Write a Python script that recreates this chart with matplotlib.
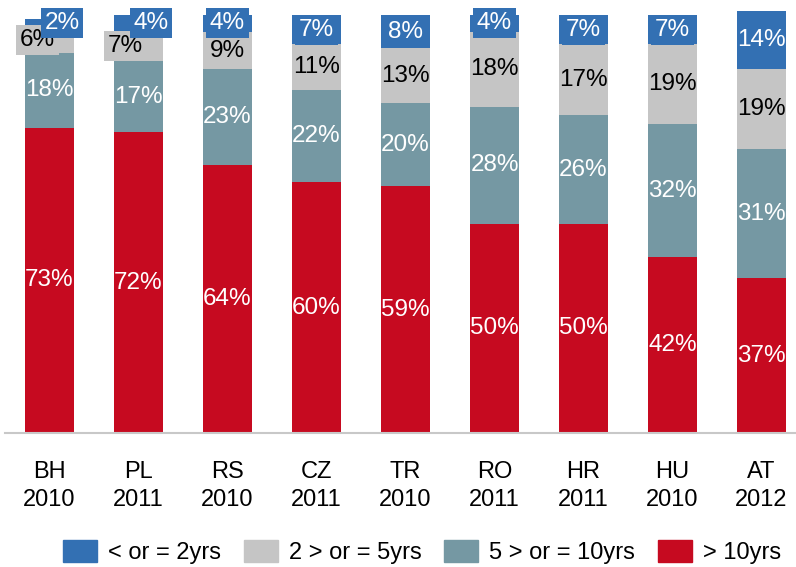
import numpy as np
import matplotlib
matplotlib.use("Agg")
import matplotlib.pyplot as plt
from matplotlib.patches import Patch

plt.rcParams['font.family'] = ['Liberation Sans', 'DejaVu Sans']

categories = ['BH\n2010', 'PL\n2011', 'RS\n2010', 'CZ\n2011', 'TR\n2010',
              'RO\n2011', 'HR\n2011', 'HU\n2010', 'AT\n2012']
over_10 = [73, 72, 64, 60, 59, 50, 50, 42, 37]
five_to_10 = [18, 17, 23, 22, 20, 28, 26, 32, 31]
two_to_5 = [6, 7, 9, 11, 13, 18, 17, 19, 19]
under_2 = [2, 4, 4, 7, 8, 4, 7, 7, 14]

series = [
    ('> 10yrs', over_10, '#C60A20', 'white'),
    ('5 > or = 10yrs', five_to_10, '#7598A3', 'white'),
    ('2 > or = 5yrs', two_to_5, '#C5C5C5', 'black'),
    ('< or = 2yrs', under_2, '#3370B3', 'white'),
]

# horizontal nudges (pixels) for crowded labels at the top of the first bars
nudge = {(0, 3): 12.5, (0, 2): -12, (1, 3): 12.5, (1, 2): -13.5}

W, H = 796, 567
fig = plt.figure(figsize=(W / 100, H / 100), dpi=100)
base_px, per_pct = 433, 4.18
ax = fig.add_axes([5 / W, (H - base_px) / H, 791 / W, 103 * per_pct / H])

x = np.arange(len(categories))
bottom = np.zeros(len(categories))
for si, (name, vals, color, tcolor) in enumerate(series):
    vals = np.array(vals, dtype=float)
    ax.bar(x, vals, 0.54, bottom=bottom, color=color, label=name, clip_on=False, zorder=2)
    for i, v in enumerate(vals):
        dx = nudge.get((i, si), 0) * 0.72
        box = None
        if si >= 2 and v < 10:
            box = dict(boxstyle='square,pad=0.16', fc=color, ec='none')
        ax.annotate(f'{int(v)}%', (x[i], bottom[i] + v / 2), xytext=(dx, 0),
                    textcoords='offset points', ha='center', va='center',
                    fontsize=17.5, color=tcolor, zorder=3 + si, bbox=box)
    bottom += vals

ax.set_xlim(-0.5, -0.5 + 791 / 89)
ax.set_ylim(0, 103)
ax.set_xticks(x)
ax.set_xticklabels(categories, fontsize=17, linespacing=1.38)
ax.tick_params(axis='x', length=0, pad=20)
ax.set_yticks([])
for spine in ('top', 'right', 'left'):
    ax.spines[spine].set_visible(False)
ax.spines['bottom'].set_color('#C8C8C8')
ax.spines['bottom'].set_linewidth(1.5)

handles = [Patch(color=c, label=n) for n, _, c, _ in reversed(series)]
fig.legend(handles=handles, loc='center', bbox_to_anchor=(422 / W, 1 - 552 / H),
           ncol=4, frameon=False, fontsize=17, handlelength=1.44, handleheight=1.1,
           handletextpad=0.47, columnspacing=0.97, borderaxespad=0, borderpad=0)

fig.savefig('out.png', dpi=100)
